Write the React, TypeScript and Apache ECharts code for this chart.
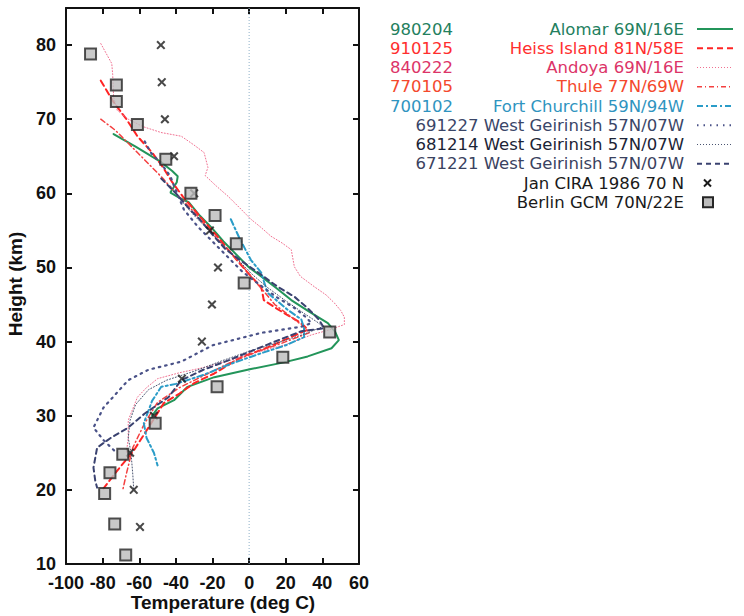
import React, { useEffect, useRef } from "react";
import * as echarts from "echarts";

// [temperature (deg C), height (km)]
const alomar980204 = [[-74,68],[-62,66.3],[-48,64.2],[-42,63],[-39,62.3],[-39.5,61.5],[-43,60.1],[-38,59.4],[-33,58.8],[-27,57],[-21,55.5],[-14,53.5],[-6,51.5],[0,50],[6.6,48.8],[15,47.2],[23,45.6],[33,44],[43,42.5],[47,41.3],[49,40.2],[45,39.1],[32,38],[19,37.2],[1,36.3],[-19,35.2],[-33.6,33.9],[-41,32.1],[-50,31],[-53,30]];
const heiss910125 = [[-81,75.2],[-74,72.3],[-67,70],[-61,67.7],[-53,65.5],[-47,63.5],[-42,61.5],[-36,59.5],[-29,57.5],[-22,55.5],[-15,53.5],[-11.5,52.4],[-5,50.5],[1,48.8],[6.6,47.4],[8,45.6],[16,44.3],[28.5,42.5],[32,41.6],[20,40.3],[8,39],[-4.4,37.9],[-19,35.7],[-30,34.4],[-38,33],[-46.6,31.7],[-55,28.4],[-63,25.3],[-72,22.6],[-79.5,20.2]];
const andoya840222 = [[-81,80.2],[-75,77.5],[-74.5,76],[-74,73],[-72,71.2],[-66,70],[-58,69],[-48,68.2],[-37,67.7],[-30,66.5],[-24.6,65.5],[-22.5,63.5],[-24,62.4],[-18,61],[-11.5,59.6],[-5,58],[1,56.5],[6,55.5],[12,54.2],[18,53.3],[23,52.4],[24.7,50.1],[28,48.8],[35.6,47.4],[42,46.3],[46.6,45.2],[50,44.2],[52,43.3],[52,42.3],[44,41.6],[34,40.9],[20,39.6],[5,38.6],[-10,37.5],[-25,36.5],[-38,35.8],[-50,35],[-56,33.8],[-61,32.5],[-66,29.4],[-66,27],[-67,25]];
const thule770105 = [[-81,70],[-73,68.5],[-61,65.5],[-53,63.5],[-47,62],[-40,60],[-32,58],[-25,56],[-18,54],[-10,52],[-4,50.3],[2,48.5],[8,46.8],[14,45],[22,43.5],[30,42],[33,41.2],[18,39.8],[4,38.6],[-10,37.2],[-24,35.5],[-38,33.8],[-50,31.8],[-57,29],[-60,27.5],[-63.5,25.7],[-67,22.2],[-69,20]];
const churchill700102 = [[-10,56.5],[-5,53.8],[1,51],[6.6,49.3],[10,46.6],[21,44.3],[28.5,43],[30,41.8],[30,40.6],[20,39.5],[5,38.3],[-10,37],[-25,35.5],[-40,34.3],[-48,33.9],[-53,32],[-57.5,29],[-56,27],[-52,25],[-50,23.3]];
const geirinish691227 = [[-57,67],[-53.7,65.5],[-48,64],[-43,62.3],[-41,61],[-35.6,57.8],[-28,55.5],[-20,53.5],[-12,51.5],[-4,49.5],[5,47.8],[15,46],[25,44.5],[31,43.3],[34,42.5],[28.5,42],[7,41.2],[-20,39.5],[-37,37.3],[-55,36.2],[-66,34.8],[-79.5,31.1],[-85,28.4],[-79.5,26.7],[-72,24.9]];
const geirinish681214 = [[-43,61],[-37,59],[-30,57],[-22,55],[-14,53],[-6,51],[2,49],[10,47.3],[20,45.5],[30,43.8],[38,42.5],[40,42],[30,41],[15,39.8],[0,38.7],[-15,37.4],[-30,36],[-45,34.8],[-55,33.5],[-62,31.5],[-65,29.4],[-66,27],[-64.5,25],[-63.5,22],[-63,20]];
const geirinish671221 = [[-48,62],[-40,60],[-33,58],[-27,56.5],[-21,54.7],[-13,52.5],[-5,51],[5,49.3],[15,47.5],[25,46],[32,44.5],[38,43],[41,41.8],[28.5,41.4],[10,39.6],[-10,37.6],[-25,36.2],[-37,34.8],[-44,32.5],[-57,30.3],[-66,28.4],[-75.6,27],[-83,25.7],[-85,23],[-84,21.2],[-83,20.3]];
const ciraJan1986 = [[-59.6,15],[-63,20],[-65,25],[-52,30],[-36.7,35],[-25.8,40],[-20.3,45],[-17,50],[-21.4,55],[-30,60],[-41,65],[-46,70],[-47.7,75],[-48.2,80]];
const berlinGCM = [[-67.4,11.2],[-73.4,15.4],[-78.9,19.5],[-76,22.3],[-69,24.8],[-51.3,29],[-17.5,33.9],[18.4,37.9],[44,41.3],[-2.7,47.9],[-7,53.2],[-18.6,57],[-31.8,60],[-45.5,64.6],[-61,69.3],[-72.5,72.4],[-72.5,74.6],[-86.6,78.8]];
const zeroLine = [[0,10],[0,85]];

const xTicks = { min: -100, max: 60, step: 20 };
const yTicks = { min: 10, max: 85, step: 10 };

const legendDates = ["980204", "910125", "840222", "770105", "700102"];
const legendNames = [
  "Alomar 69N/16E",
  "Heiss Island 81N/58E",
  "Andoya 69N/16E",
  "Thule 77N/69W",
  "Fort Churchill 59N/94W",
  "691227 West Geirinish 57N/07W",
  "681214 West Geirinish 57N/07W",
  "671221 West Geirinish 57N/07W",
  "Jan CIRA 1986 70 N",
  "Berlin GCM 70N/22E",
];

const FONT = '"Liberation Sans", Arial, Helvetica, sans-serif';
const LEGEND_FONT = '"DejaVu Sans", "Liberation Sans", sans-serif';

const lineDefs = [
  { name: legendNames[0], data: alomar980204, color: "#23955a", text: "#23805e", width: 2, dash: "solid" as any },
  { name: legendNames[1], data: heiss910125, color: "#ff2424", text: "#ff2e2e", width: 2, dash: [6, 4] },
  { name: legendNames[2], data: andoya840222, color: "#f07090", text: "#dc3468", width: 1, dash: [1, 2] },
  { name: legendNames[3], data: thule770105, color: "#f44040", text: "#f4482c", width: 1.5, dash: [5, 3, 1, 3] },
  { name: legendNames[4], data: churchill700102, color: "#2a9cc8", text: "#2f94c0", width: 2, dash: [6, 3, 2, 3] },
  { name: legendNames[5], data: geirinish691227, color: "#4a5288", text: "#3a4668", width: 2.2, dash: [1.5, 5] },
  { name: legendNames[6], data: geirinish681214, color: "#4a5470", text: "#1c2436", width: 1, dash: [1, 2] },
  { name: legendNames[7], data: geirinish671221, color: "#3a4270", text: "#3a4260", width: 2, dash: [5, 4] },
];

const rowY = [29, 48.25, 67.5, 86.75, 106, 125.25, 144.5, 163.75, 183, 202.25];
const X_MARK = "path://M0,1.6L1.6,0L5,3.4L8.4,0L10,1.6L6.6,5L10,8.4L8.4,10L5,6.6L1.6,10L0,8.4L3.4,5Z";

export default function App() {
  const ref = useRef<HTMLDivElement>(null);
  useEffect(() => {
    if (!ref.current) return;
    const chart = echarts.init(ref.current, null, { renderer: "svg" });

    const axisLineStyle = { color: "#111", width: 2 };
    const mkX = (pos: string, show: boolean) => ({
      type: "value", position: pos, min: xTicks.min, max: xTicks.max, interval: xTicks.step,
      axisLine: { show: true, onZero: false, lineStyle: axisLineStyle },
      axisTick: { show: true, inside: true, length: 6, lineStyle: axisLineStyle },
      axisLabel: { show, fontSize: 18, fontWeight: "bold", color: "#111", margin: 10, fontFamily: FONT },
      splitLine: { show: false },
    });
    const mkY = (pos: string, show: boolean) => ({
      type: "value", position: pos, min: yTicks.min, max: yTicks.max, interval: yTicks.step,
      axisLine: { show: true, onZero: false, lineStyle: axisLineStyle },
      axisTick: { show: true, inside: true, length: 6, lineStyle: axisLineStyle },
      axisLabel: { show, showMaxLabel: false, fontSize: 18, fontWeight: "bold", color: "#111", margin: 10, fontFamily: FONT },
      splitLine: { show: false },
    });

    const series: any[] = [
      {
        type: "line", name: "zero", data: zeroLine, showSymbol: false, silent: true,
        lineStyle: { color: "#8fb0c8", width: 1, type: [1, 2] }, z: 1,
      },
      ...lineDefs.map((d, i) => ({
        type: "line", name: d.name, data: d.data, showSymbol: false, smooth: false,
        lineStyle: { color: d.color, width: d.width, type: d.dash, cap: "round" }, z: 2 + i,
      })),
      {
        type: "scatter", name: legendNames[8], data: ciraJan1986, symbol: X_MARK, symbolSize: 9,
        itemStyle: { color: "#1a1a1a" }, z: 20,
      },
      {
        type: "scatter", name: legendNames[9], data: berlinGCM, symbol: "rect", symbolSize: 11,
        itemStyle: { color: "#bcbcbc", borderColor: "#262626", borderWidth: 2 }, z: 21,
      },
    ];

    const graphics: any[] = [];
    const tx = (text: string, x: number, y: number, fill: string, align: string) => ({
      type: "text", x, y,
      style: { text, fill, font: `normal 16.5px ${LEGEND_FONT}`, align, verticalAlign: "middle", textAlign: align, textVerticalAlign: "middle" },
    });
    lineDefs.forEach((d, i) => {
      if (i < legendDates.length) graphics.push(tx(legendDates[i], 390, rowY[i], d.text, "left"));
      graphics.push(tx(d.name, 684, rowY[i], d.text, "right"));
      graphics.push({
        type: "line", shape: { x1: 697, y1: rowY[i], x2: 733, y2: rowY[i] },
        style: { stroke: d.color, lineWidth: Math.max(1.2, d.width), lineDash: d.dash === "solid" ? null : d.dash },
      });
    });
    graphics.push(tx(legendNames[8], 684, rowY[8], "#1a1a1a", "right"));
    graphics.push(tx(legendNames[9], 684, rowY[9], "#1a1a1a", "right"));
    graphics.push({ type: "line", shape: { x1: 704, y1: rowY[8] - 3.5, x2: 711, y2: rowY[8] + 3.5 }, style: { stroke: "#1a1a1a", lineWidth: 2 } });
    graphics.push({ type: "line", shape: { x1: 711, y1: rowY[8] - 3.5, x2: 704, y2: rowY[8] + 3.5 }, style: { stroke: "#1a1a1a", lineWidth: 2 } });
    graphics.push({ type: "rect", shape: { x: 703, y: rowY[9] - 5, width: 10, height: 10 }, style: { fill: "#bcbcbc", stroke: "#262626", lineWidth: 2 } });

    graphics.push({
      type: "text", x: 223, y: 602,
      style: { text: "Temperature (deg C)", fill: "#111", font: `bold 19px ${FONT}`, align: "center", verticalAlign: "middle", textAlign: "center", textVerticalAlign: "middle" },
    });
    graphics.push({
      type: "text", x: 15, y: 284, rotation: Math.PI / 2,
      style: { text: "Height (km)", fill: "#111", font: `bold 19px ${FONT}`, align: "center", verticalAlign: "middle", textAlign: "center", textVerticalAlign: "middle" },
    });

    chart.setOption({
      animation: false,
      backgroundColor: "#ffffff",
      grid: { left: 66, right: 385, top: 8, bottom: 52, containLabel: false },
      xAxis: [mkX("bottom", true), mkX("top", false)],
      yAxis: [mkY("left", true), mkY("right", false)],
      series,
      graphic: { elements: graphics },
    });
    return () => chart.dispose();
  }, []);

  return (
    <div
      ref={ref}
      style={{ position: "fixed", left: 0, top: 0, width: 744, height: 616, background: "#fff" }}
    />
  );
}
